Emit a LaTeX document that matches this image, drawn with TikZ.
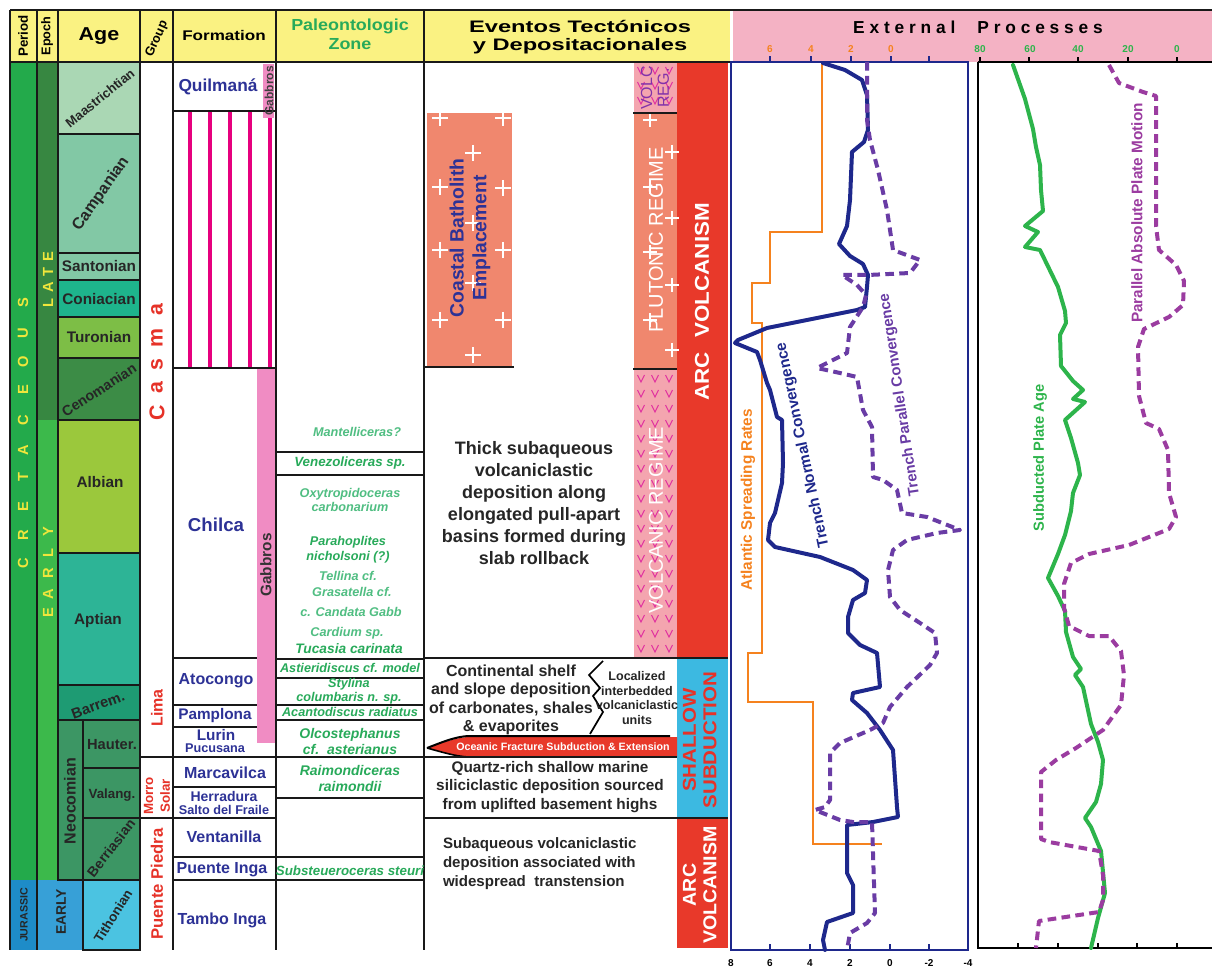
\documentclass[tikz,border=0pt]{standalone}
\usepackage{fontspec}
\usepackage{graphicx}
\setmainfont{Liberation Sans}
\definecolor{hdrY}{RGB}{250,242,130}
\definecolor{hdrP}{RGB}{244,178,196}
\definecolor{perG}{RGB}{35,170,75}
\definecolor{lateG}{RGB}{55,135,65}
\definecolor{earlyG}{RGB}{60,185,75}
\definecolor{jurP}{RGB}{30,140,200}
\definecolor{jurE}{RGB}{55,160,215}
\definecolor{tith}{RGB}{75,195,225}
\definecolor{maas}{RGB}{170,215,180}
\definecolor{camp}{RGB}{130,200,165}
\definecolor{coni}{RGB}{30,180,140}
\definecolor{turo}{RGB}{125,190,70}
\definecolor{ceno}{RGB}{60,140,70}
\definecolor{albi}{RGB}{155,200,60}
\definecolor{apti}{RGB}{45,180,150}
\definecolor{barr}{RGB}{30,155,115}
\definecolor{neoc}{RGB}{60,150,100}
\definecolor{fmblue}{RGB}{45,50,150}
\definecolor{paleoG}{RGB}{40,170,90}
\definecolor{paleoL}{RGB}{80,190,130}
\definecolor{grpred}{RGB}{230,50,40}
\definecolor{gab}{RGB}{240,140,195}
\definecolor{stripe}{RGB}{230,0,126}
\definecolor{salmon}{RGB}{240,135,110}
\definecolor{volpink}{RGB}{244,165,175}
\definecolor{vmag}{RGB}{225,50,160}
\definecolor{arcred}{RGB}{232,57,42}
\definecolor{cyanS}{RGB}{60,185,225}
\definecolor{navy}{RGB}{30,40,140}
\definecolor{purp}{RGB}{105,60,165}
\definecolor{orng}{RGB}{245,130,30}
\definecolor{grn}{RGB}{45,180,75}
\definecolor{magp}{RGB}{155,60,160}
\definecolor{volcT}{RGB}{130,50,170}
\definecolor{yelT}{RGB}{240,230,60}
\newcommand{\myfs}[2]{\fontsize{#1}{#2}\selectfont}
\begin{document}
\begin{tikzpicture}[x=0.75pt,y=-0.75pt,
  every node/.style={inner sep=0pt,outer sep=0pt},
  gl/.style={line width=1.5pt,draw=black!90},
  gls/.style={line width=1.1pt,draw=black!90},
  agel/.style={font=\bfseries\myfs{11.5}{13},text=black!85},
  fml/.style={font=\bfseries\myfs{12}{13},text=fmblue},
  pzl/.style={font=\bfseries\itshape\myfs{9.5}{11.2},text=paleoG,align=center},
  evl/.style={text=black!85,align=center},
  grl/.style={font=\bfseries,text=grpred},
  axl/.style={font=\bfseries\myfs{7.5}{8}},
  solidc/.style={line width=3pt,line join=round,line cap=round},
  dashc/.style={line width=3pt,dash pattern=on 6.5pt off 4pt,line join=round},
  vmk/.style={draw=vmag,line width=0.8pt},
  pmk/.style={draw=white,line width=1pt},
]
\useasboundingbox (0,0) rectangle (1214,973);
\fill[white] (0,0) rectangle (1214,973);
% ---------- header fills
\fill[hdrY] (10,10) rectangle (730,62);
\fill[hdrP] (733,10) rectangle (1212,62);
% ---------- period / epoch
\fill[perG] (10,62) rectangle (37,880);
\fill[jurP] (10,880) rectangle (37,950);
\fill[lateG] (37,62) rectangle (58,420);
\fill[earlyG] (37,420) rectangle (58,880);
\fill[jurE] (37,880) rectangle (83,950);
% ---------- ages
\foreach \a/\b/\c in {62/134/maas,134/253/camp,253/280/camp,280/317/coni,317/358/turo,358/420/ceno,420/553/albi,553/685/apti,685/720/barr}
  \filldraw[gls,fill=\c] (58,\a) rectangle (140,\b);
\filldraw[gls,fill=neoc] (58,720) rectangle (83,880);
\foreach \a/\b in {720/768,768/818,818/880}
  \filldraw[gls,fill=neoc] (83,\a) rectangle (140,\b);
\filldraw[gls,fill=tith] (83,880) rectangle (140,950);
% ---------- formation fills
\foreach \xx in {190,210,230,250,270} \fill[stripe] (\xx-2,112) rectangle (\xx+2,368);
\fill[gab] (263,64) rectangle (274,118);
\fill[gab] (257,368) rectangle (275,743);
% ---------- eventos fills
\fill[salmon] (427,113) rectangle (512,367);
\fill[volpink] (634,62) rectangle (677,113);
\fill[salmon] (634,113) rectangle (677,369);
\fill[volpink] (634,369) rectangle (677,658);
\fill[arcred] (677,62) rectangle (728,658);
\fill[cyanS] (677,658) rectangle (728,818);
\fill[arcred] (677,818) rectangle (728,948);
% v marks
\foreach \yy in {70,85,100} \foreach \xx in {641,655,669}
  \draw[vmk] (\xx-3.5,\yy-3) -- (\xx,\yy+4) -- (\xx+3.5,\yy-3);
\foreach \yy in {378,393,...,650} \foreach \xx in {641,655,669}
  \draw[vmk] (\xx-3.5,\yy-3) -- (\xx,\yy+4) -- (\xx+3.5,\yy-3);
% plus marks
\foreach \xx/\yy in {440/118,503/118,473/153,440/187,503/188,473/223,440/250,503/250,473/283,440/320,503/320,473/355}
  \draw[pmk] (\xx-8,\yy) -- (\xx+8,\yy) (\xx,\yy-8) -- (\xx,\yy+8);
\foreach \xx/\yy in {650/120,672/152,650/187,672/218,650/252,672/285,650/320,672/350}
  \draw[pmk] (\xx-7,\yy) -- (\xx+7,\yy) (\xx,\yy-7) -- (\xx,\yy+7);
% oceanic fracture wedge
\fill[arcred] (427,748) .. controls (445,742) and (455,738) .. (468,737) -- (677,737) -- (677,757) -- (468,757) .. controls (455,756) and (445,752) .. (427,748) -- cycle;
\draw[line width=1.5pt] (427,748) .. controls (445,741) and (455,737) .. (468,736) -- (670,736);
\draw[line width=1.2pt] (427,748) .. controls (445,753) and (455,756) .. (468,757);
% ---------- grid lines
\draw[gl] (10,10) -- (1212,10);
\draw[gl] (10,62) -- (730,62);
\foreach \xx in {10,37,140,173,276,424} \draw[gl] (\xx,10) -- (\xx,950);
\draw[gl] (58,10) -- (58,880);
\draw[gls] (83,880) -- (83,950);
\foreach \ya/\xa/\xb in {111/173/276,368/173/276,658/173/257,705/173/257,727/173/257,757/140/276,787/173/276,818/140/276,857/173/276,880/173/276}
  \draw[gls] (\xa,\ya) -- (\xb,\ya);
\foreach \yy in {452,475,659,678,705,720,757,798,857,880} \draw[gls] (276,\yy) -- (424,\yy);
\draw[gl] (424,367) -- (514,367);
\draw[gl] (633,113) -- (677,113);
\draw[gl] (633,369) -- (677,369);
\draw[gls] (424,658) -- (728,658);
\draw[gls] (424,757) -- (677,757);
\draw[gls] (424,818) -- (728,818);
\draw[line width=1.3pt] (603,661) -- (589,675) -- (600,688) -- (593,696) -- (603,712) -- (590,734);
% ---------- headers
\node[rotate=90,font=\bfseries\myfs{10}{12}] (hPer) at (23,36) {Period};
\node[rotate=90,font=\bfseries\myfs{9.5}{11}] (hEp) at (47,36) {Epoch};
\node[font=\bfseries\myfs{14}{16}] (hAge) at (99,36) {\scalebox{1.15}[1]{Age}};
\node[rotate=66,font=\bfseries\myfs{9.5}{11}] (hGrp) at (157,39) {Group};
\node[font=\bfseries\myfs{10.5}{12}] (hFm) at (224,36) {\scalebox{1.22}[1]{Formation}};
\node[font=\bfseries\myfs{12}{14.5},text=paleoG] (hPz) at (350,36) {\scalebox{1.12}[1]{\begin{tabular}{@{}c@{}}Paleontologic\\Zone\end{tabular}}};
\node[font=\bfseries\myfs{12.5}{13.5}] (hEv) at (580,38) {\scalebox{1.42}[1]{\begin{tabular}{@{}c@{}}Eventos Tectónicos\\y Depositacionales\end{tabular}}};
\node[font=\bfseries\myfs{13}{15}] (hExt) at (978,27) {E x t e r n a l \quad P r o c e s s e s};
% ---------- period / epoch texts
\foreach \i/\l/\yy in {1/C/563,2/R/535,3/E/507,4/T/477,5/A/450,6/C/420,7/E/390,8/O/362,9/U/333,10/S/303}
  \node[rotate=90,font=\bfseries\myfs{11}{12},text=yelT] (cr\i) at (23,\yy) {\l};
\foreach \i/\l/\yy in {1/L/303,2/A/287,3/T/272,4/E/257}
  \node[rotate=90,font=\bfseries\myfs{11}{12},text=yelT] (lt\i) at (48,\yy) {\l};
\foreach \i/\l/\yy in {1/E/613,2/A/594,3/R/573,4/L/553,5/Y/532}
  \node[rotate=90,font=\bfseries\myfs{11}{12},text=yelT] (er\i) at (48,\yy) {\l};
\node[rotate=90,font=\bfseries\myfs{8}{9},text=black!85] (jur) at (24,915) {JURASSIC};
\node[rotate=90,font=\bfseries\myfs{10.4}{12},text=black!85] (jEarly) at (61,912) {EARLY};
% ---------- age texts
\node[agel,rotate=39,font=\bfseries\myfs{9.8}{11}] (aMaa) at (100,98) {Maastrichtian};
\node[agel,rotate=55,font=\bfseries\myfs{12}{13}] (aCam) at (101,194) {Campanian};
\node[agel] (aSan) at (99,266) {Santonian};
\node[agel] (aCon) at (99,299) {Coniacian};
\node[agel] (aTur) at (99,337) {Turonian};
\node[agel,rotate=33,font=\bfseries\myfs{10.7}{12}] (aCen) at (99,390) {Cenomanian};
\node[agel] (aAlb) at (100,482) {Albian};
\node[agel] (aApt) at (98,621) {Aptian};
\node[agel,rotate=20,font=\bfseries\myfs{11}{12}] (aBar) at (98,705) {Barrem.};
\node[agel,font=\bfseries\myfs{11}{12}] (aHau) at (112,745) {Hauter.};
\node[agel,font=\bfseries\myfs{10}{12}] (aVal) at (112,795) {Valang.};
\node[agel,rotate=52,font=\bfseries\myfs{10.5}{12}] (aBer) at (111,848) {Berriasian};
\node[agel,rotate=58,font=\bfseries\myfs{10}{12}] (aTit) at (113,916) {Tithonian};
\node[agel,rotate=90,font=\bfseries\myfs{12}{13}] (aNeo) at (70,801) {Neocomian};
% ---------- group texts
\foreach \i/\l/\yy in {1/C/413,2/a/388,3/s/365,4/m/338,5/a/310}
  \node[grl,rotate=90,font=\bfseries\myfs{16}{17}] (cs\i) at (157,\yy) {\l};
\node[grl,rotate=90,font=\bfseries\myfs{12}{13}] (gLima) at (157,708) {Lima};
\node[grl,rotate=90,font=\bfseries\myfs{10}{12.5},align=center] (gMorro) at (157,796) {Morro\\Solar};
\node[grl,rotate=90,font=\bfseries\myfs{12.5}{14}] (gPP) at (157,884) {Puente Piedra};
% ---------- formation texts
\node[fml,font=\bfseries\myfs{13}{14}] (fQui) at (218,87) {Quilmaná};
\node[rotate=90,font=\bfseries\myfs{9}{10},text=black!75] (fGab1) at (269,91) {Gabbros};
\node[fml,font=\bfseries\myfs{14}{15}] (fChi) at (216,525) {Chilca};
\node[rotate=90,font=\bfseries\myfs{11.5}{12},text=black!80] (fGab2) at (266,565) {Gabbros};
\node[fml] (fAto) at (216,681) {Atocongo};
\node[fml,font=\bfseries\myfs{11.5}{12}] (fPam) at (215,716) {Pamplona};
\node[fml,font=\bfseries\myfs{11.5}{12}] (fLur) at (216,735) {Lurin};
\node[fml,font=\bfseries\myfs{9.5}{10}] (fPuc) at (215,748) {Pucusana};
\node[fml] (fMar) at (225,773) {Marcavilca};
\node[fml,font=\bfseries\myfs{10.5}{11}] (fHer) at (224,796) {Herradura};
\node[fml,font=\bfseries\myfs{9.5}{10}] (fSal) at (224,810) {Salto del Fraile};
\node[fml] (fVen) at (224,837) {Ventanilla};
\node[fml] (fPIn) at (222,870) {Puente Inga};
\node[fml] (fTam) at (222,920) {Tambo Inga};
% ---------- paleontologic zone
\node[pzl,text=paleoL] (pMan) at (357,432) {Mantelliceras?};
\node[pzl,font=\bfseries\itshape\myfs{10}{11}] (pVen) at (350,463) {Venezoliceras sp.};
\node[pzl,text=paleoL,font=\bfseries\itshape\myfs{9.5}{10.7}] (pOxy) at (350,500) {Oxytropidoceras\\carbonarium};
\node[pzl] (pPar) at (348,550) {Parahoplites\\nicholsoni (?)};
\node[pzl,text=paleoL] (pTel) at (348,576) {Tellina cf.};
\node[pzl,text=paleoL] (pGra) at (352,592) {Grasatella cf.};
\node[pzl,text=paleoL] (pCan) at (351,612) {c. Candata Gabb};
\node[pzl,text=paleoL] (pCar) at (347,633) {Cardium sp.};
\node[pzl,font=\bfseries\itshape\myfs{10.3}{11}] (pTuc) at (349,649) {Tucasia carinata};
\node[pzl] (pAst) at (350,668) {Astieridiscus cf. model};
\node[pzl,font=\bfseries\itshape\myfs{9.5}{10.5}] (pSty) at (349,691) {Stylina\\columbaris n. sp.};
\node[pzl] (pAca) at (350,712) {Acantodiscus radiatus};
\node[pzl,font=\bfseries\itshape\myfs{10.5}{12}] (pOlc) at (350,741) {Olcostephanus\\cf.\ \ asterianus};
\node[pzl,font=\bfseries\itshape\myfs{10.5}{12}] (pRai) at (350,778) {Raimondiceras\\raimondii};
\node[pzl,font=\bfseries\itshape\myfs{10}{11}] (pSub) at (350,871) {Substeueroceras steuri};
% ---------- eventos texts
\node[rotate=90,font=\bfseries\myfs{14.5}{17},text=fmblue,align=center] (eCB) at (470,238) {Coastal Batholith\\Emplacement};
\node[evl,font=\bfseries\myfs{13.5}{16.5}] (eThick) at (534,503) {Thick subaqueous\\volcaniclastic\\deposition along\\elongated pull-apart\\basins formed during\\slab rollback};
\node[evl,font=\bfseries\myfs{12}{13.9}] (eCont) at (511,700) {Continental shelf\\and slope deposition\\of carbonates, shales\\\& evaporites};
\node[evl,font=\bfseries\myfs{9.4}{11.2}] (eLoc) at (637,698) {Localized\\interbedded\\volcaniclastic\\units};
\node[font=\bfseries\myfs{8}{9},text=white] (eOce) at (563,747) {Oceanic Fracture Subduction \& Extension};
\node[evl,font=\bfseries\myfs{11.5}{14.2}] (eQua) at (550,787) {Quartz-rich shallow marine\\siliciclastic deposition sourced\\from uplifted basement highs};
\node[evl,align=left,anchor=west,font=\bfseries\myfs{11.3}{14.2}] (eSub) at (443,864) {Subaqueous volcaniclastic\\deposition associated with\\widespread\ \ transtension};
\node[rotate=90,font=\myfs{12}{12.5},text=volcT,align=center] (rVolc) at (655,88) {VOLC\\REG.};
\node[rotate=90,font=\myfs{15}{16},text=white] (rPlu) at (656,240) {PLUTONIC REGIME};
\node[rotate=90,font=\myfs{15}{16},text=white] (rVol) at (656,520) {VOLCANIC REGIME};
\node[rotate=90,font=\bfseries\myfs{15}{16},text=white] (rArc1) at (702,302) {\scalebox{1.12}[1]{ARC\hspace{10pt}VOLCANISM}};
\node[rotate=90,font=\bfseries\myfs{14}{15.5},text=grpred,align=center] (rSha) at (702,740) {\scalebox{1.1}[1]{\begin{tabular}{@{}c@{}}SHALLOW\\SUBDUCTION\end{tabular}}};
\node[rotate=90,font=\bfseries\myfs{14}{15.5},text=white,align=center] (rArc2) at (702,885) {\scalebox{1.05}[1]{\begin{tabular}{@{}c@{}}ARC\\VOLCANISM\end{tabular}}};
% ---------- external processes frames
\draw[navy,line width=2pt] (731,62) rectangle (968,950);
\foreach \xx in {770,811,851,891,929} \draw[navy,line width=1.5pt] (\xx,62) -- (\xx,56);
\foreach \xx in {770,810,850,890,929} \draw[navy,line width=1.5pt] (\xx,950) -- (\xx,944);
\foreach \i/\l/\xx in {1/6/770,2/4/811,3/2/851,4/0/891}
  \node[axl,text=orng] (ot\i) at (\xx,49) {\l};
\foreach \i/\l/\xx in {1/8/731,2/6/770,3/4/810,4/2/850,5/0/890,6/-2/929,7/-4/968}
  \node[axl] (bt\i) at (\xx,963) {\l};
\draw[black,line width=2pt] (978,62) -- (1212,62);
\draw[black,line width=2pt] (978,62) -- (978,948) -- (1212,948);
\foreach \xx in {980,1029,1078,1128,1177} \draw[line width=1.5pt] (\xx,62) -- (\xx,57);
\foreach \xx in {1018,1058,1098,1137,1177} \draw[line width=1.5pt] (\xx,948) -- (\xx,943);
\foreach \i/\l/\xx in {1/80/980,2/60/1030,3/40/1078,4/20/1128,5/0/1177}
  \node[axl,text=grn] (gt\i) at (\xx,49) {\l};
% ---------- curves
\draw[orng,line width=2.2pt] (822,62) -- (822,232) -- (770,232) -- (770,283) -- (752,283) -- (752,323) -- (762,323) -- (762,653) -- (748,653) -- (748,702) -- (813,702) -- (813,844) -- (882,844);
\draw[navy,solidc] (823,63) -- (845,70) -- (862,80) -- (867,95) -- (868,130) -- (864,142) -- (852,152) -- (850,200) -- (847,226) -- (839,244) -- (850,256) -- (863,264) -- (868,275) -- (867,287) -- (865,307) -- (857,310) -- (767,328) -- (738,340) -- (735,343) -- (757,352) -- (760,360) -- (767,383) -- (770,390) -- (777,417) -- (782,420) -- (783,463) -- (782,483) -- (775,513) -- (770,523) -- (768,540) -- (775,547) -- (820,557) -- (853,570) -- (867,580) -- (865,593) -- (853,600) -- (848,617) -- (848,633) -- (860,645) -- (877,653) -- (880,687) -- (853,693) -- (852,700) -- (867,713) -- (880,730) -- (893,750) -- (897,807) -- (898,817) -- (873,822) -- (847,825) -- (847,873) -- (853,885) -- (853,913) -- (827,922) -- (823,940) -- (825,950);
\draw[purp,dashc] (867,62) -- (867,120) -- (870,140) -- (878,170) -- (887,210) -- (893,250) -- (920,260) -- (910,273) -- (868,275) -- (842,275) -- (857,285) -- (866,295) -- (863,307) -- (850,327) -- (847,353) -- (817,368) -- (840,373) -- (857,377) -- (863,410) -- (872,427) -- (873,477) -- (883,480) -- (897,490) -- (902,513) -- (927,517) -- (960,530) -- (937,533) -- (907,540) -- (893,550) -- (888,570) -- (890,597) -- (900,610) -- (920,623) -- (935,633) -- (937,653) -- (930,665) -- (907,687) -- (890,707) -- (883,723) -- (870,730) -- (840,743) -- (830,753) -- (830,800) -- (825,807) -- (815,810) -- (840,820) -- (853,822) -- (872,822) -- (873,853) -- (875,913) -- (867,923) -- (850,933) -- (847,950);
\draw[grn,solidc] (1013,65) -- (1025,99) -- (1033,129) -- (1036,147) -- (1040,165) -- (1041,190) -- (1043,211) -- (1025,226) -- (1038,232) -- (1025,247) -- (1040,250) -- (1058,287) -- (1065,311) -- (1066,323) -- (1060,335) -- (1061,366) -- (1073,381) -- (1083,390) -- (1073,399) -- (1085,402) -- (1065,420) -- (1071,438) -- (1078,463) -- (1080,475) -- (1073,493) -- (1071,511) -- (1065,535) -- (1058,554) -- (1048,578) -- (1058,596) -- (1065,611) -- (1066,632) -- (1073,657) -- (1081,669) -- (1075,675) -- (1083,687) -- (1091,724) -- (1098,742) -- (1103,760) -- (1101,784) -- (1096,802) -- (1085,818) -- (1091,827) -- (1101,851) -- (1105,893) -- (1098,918) -- (1091,948);
\draw[magp,dashc] (1109,65) -- (1119,83) -- (1143,92) -- (1156,96) -- (1156,226) -- (1159,250) -- (1176,265) -- (1184,281) -- (1183,305) -- (1169,317) -- (1144,329) -- (1138,347) -- (1139,396) -- (1146,423) -- (1159,429) -- (1168,450) -- (1169,493) -- (1176,517) -- (1169,529) -- (1129,545) -- (1089,554) -- (1071,563) -- (1064,584) -- (1064,608) -- (1069,626) -- (1089,636) -- (1109,636) -- (1121,651) -- (1124,675) -- (1121,705) -- (1103,730) -- (1076,748) -- (1056,760) -- (1041,772) -- (1041,839) -- (1049,842) -- (1099,851) -- (1103,875) -- (1103,900) -- (1099,912) -- (1039,921) -- (1036,948);
% ---------- curve labels
\node[rotate=90,font=\bfseries\myfs{11.5}{12},text=orng] (lAtl) at (748,500) {Atlantic Spreading Rates};
\node[rotate=102,font=\bfseries\myfs{11.5}{12},text=navy] (lTNC) at (803,445) {Trench Normal Convergence};
\node[rotate=98.6,font=\bfseries\myfs{11.2}{12},text=purp] (lTPC) at (900,395) {Trench Parallel Convergence};
\node[rotate=90,font=\bfseries\myfs{11}{12},text=grn] (lSPA) at (1040,458) {Subducted Plate Age};
\node[rotate=90,font=\bfseries\myfs{11.5}{12},text=magp] (lPAP) at (1137,213) {Parallel Absolute Plate Motion};
\end{tikzpicture}
\end{document}
